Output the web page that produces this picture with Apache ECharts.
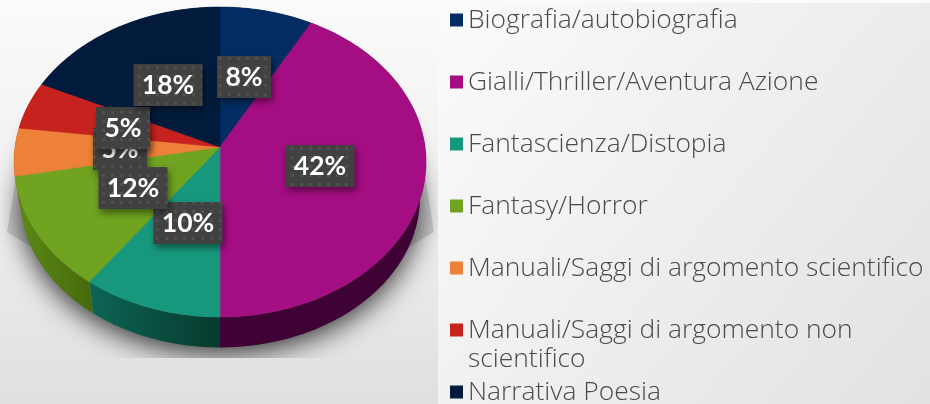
<!DOCTYPE html>
<html><head><meta charset="utf-8">
<style>html,body{margin:0;padding:0;background:#eee}#c{width:930px;height:404px}</style>
<script src="https://cdn.jsdelivr.net/npm/echarts@6/dist/echarts.min.js"></script>
</head><body><div id="c"></div>
<script>
const categories = ['Biografia/autobiografia','Gialli/Thriller/Aventura Azione','Fantascienza/Distopia','Fantasy/Horror','Manuali/Saggi di argomento scientifico','Manuali/Saggi di argomento non scientifico','Narrativa Poesia'];
const values = [8,42,10,12,5,5,18];
const colors = ['#032c62','#a50d82','#17987d','#6fa320','#ee8139','#c8221f','#021b3c'];
const wallFrom = ['#021a3a','#3f0234','#0c6555','#5c8a16','#8a4a20','#751412','#010f22'];
const wallTo   = ['#021a3a','#3f0234','#063a2d','#466a0c','#8a4a20','#751412','#010f22'];
// label centre x, y and stacking order
const labelSpots = [[244,77,1],[320,166,2],[188,223,3],[133,188,5],[120,149,4],[123,128,6],[168,85,7]];

const CX=220, CY=147, K=-0.0968;
const topRing={r:205,a:153.5,dy:0}, lowRing={r:199,a:148.5,dy:36};
function project(ring,deg){
  const t=deg*Math.PI/180, u=Math.sin(t), v=-Math.cos(t), w=1+K*v;
  return [CX+ring.r*u/w, CY+ring.dy+ring.a*v/w];
}
function arc(ring,a0,a1){
  const n=Math.max(2,Math.ceil(a1-a0)), p=[];
  for(let i=0;i<=n;i++) p.push(project(ring,a0+(a1-a0)*i/n));
  return p;
}
const total=values.reduce((a,b)=>a+b,0);
const dots=document.createElement('canvas'); dots.width=dots.height=9;
(function(){const g=dots.getContext('2d');g.fillStyle='#414141';g.fillRect(0,0,9,9);g.fillStyle='#505050';g.fillRect(3,3,3,3);})();

function makeSeries(idx){
  return {
    type:'custom', name:categories[idx], coordinateSystem:'none', silent:true,
    itemStyle:{color:colors[idx]}, animation:false, clip:false,
    data:[values[idx]],
    renderItem(params,api){
      const before=values.slice(0,idx).reduce((a,b)=>a+b,0);
      const a0=before/total*360, a1=(before+api.value(0))/total*360;
      const top=arc(topRing,a0,a1), low=arc(lowRing,a0,a1);
      const s=labelSpots[idx], txt=values[idx]+'%', w=txt.length>2?69:54, h=42;
      return {type:'group',children:[
        {type:'polygon',z2:1,shape:{points:top.concat(low.slice().reverse())},
         style:{fill:{type:'linear',x:0,y:0,x2:1,y2:0,colorStops:[{offset:0,color:wallFrom[idx]},{offset:1,color:wallTo[idx]}]}}},
        {type:'polygon',z2:10,shape:{points:[[CX,CY]].concat(top)},
         style:{fill:colors[idx],stroke:colors[idx],lineWidth:0.6}},
        {type:'rect',z2:20+s[2]*2,shape:{x:s[0]-w/2,y:s[1]-h/2,width:w,height:h},
         style:{fill:{image:dots,repeat:'repeat'},shadowBlur:7,shadowOffsetX:2,shadowOffsetY:4,shadowColor:'rgba(0,0,0,0.45)'}},
        {type:'text',z2:21+s[2]*2,x:s[0],y:s[1],
         style:{text:txt,fill:'#fff',font:'700 26.5px Lato, "Open Sans", sans-serif',align:'center',verticalAlign:'middle'}}
      ]};
    }
  };
}

const legendBase={orient:'vertical',left:450,itemWidth:13,itemHeight:13,itemGap:31,icon:'rect',selectedMode:false,
  textStyle:{fontFamily:'"Open Sans", Lato, sans-serif',fontWeight:300,fontSize:26.4,color:'#4a4a4a',lineHeight:29,padding:[2,0,0,0]},padding:0};

const softShadow={fill:'rgba(0,0,0,0.13)',shadowBlur:10,shadowColor:'rgba(0,0,0,0.25)'};
const chart=echarts.init(document.getElementById('c'),null,{renderer:'canvas'});
chart.setOption({
  animation:false,
  tooltip:{show:false},
  legend:[
    Object.assign({},legendBase,{top:4.5,data:categories.slice(0,5)}),
    Object.assign({},legendBase,{top:314.5,data:[categories[5]],itemHeight:42,icon:'path://M0,0H13V13H0Z M0,42H0',
      formatter:()=>'Manuali/Saggi di argomento non\nscientifico'}),
    Object.assign({},legendBase,{top:376.5,data:[categories[6]]})
  ],
  graphic:{elements:[
    {type:'rect',z:-10,shape:{x:0,y:0,width:930,height:404},
     style:{fill:{type:'linear',x:0,y:0,x2:0,y2:1,colorStops:[{offset:0,color:'#fbfbfb'},{offset:0.5,color:'#efefef'},{offset:1,color:'#e0e0e0'}]}}},
    {type:'polygon',z:-9,shape:{points:[[24,130],[7,232],[70,270],[70,130]]},style:softShadow},
    {type:'polygon',z:-9,shape:{points:[[416,120],[434,232],[370,270],[370,120]]},style:softShadow},
    {type:'ellipse',z:-9,shape:{cx:220,cy:201,rx:198,ry:146},
     style:{fill:'#8a8a8a',shadowBlur:28,shadowColor:'rgba(0,0,0,0.8)',shadowOffsetY:6}},
    {type:'rect',z:-8,shape:{x:438,y:3,width:492,height:401},
     style:{fill:{type:'linear',x:0,y:0,x2:1,y2:1,colorStops:[{offset:0,color:'#fbfbfb'},{offset:1,color:'#e2e2e2'}]}}},
    {type:'rect',z:-8,shape:{x:0,y:358,width:438,height:46},
     style:{fill:{type:'linear',x:0,y:0,x2:0,y2:1,colorStops:[{offset:0,color:'#e2e2e2'},{offset:1,color:'#e0e0e0'}]}}}
  ]},
  series:categories.map((_,i)=>makeSeries(i))
});
</script></body></html>
